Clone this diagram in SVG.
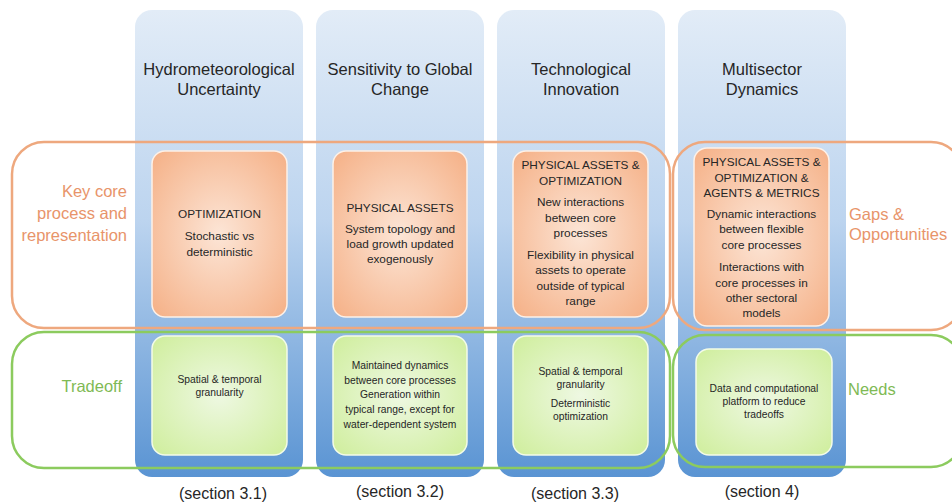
<svg xmlns="http://www.w3.org/2000/svg" width="952" height="504" viewBox="0 0 952 504">
<defs>
<linearGradient id="gBlue" x1="0" y1="0" x2="0" y2="1">
<stop offset="0" stop-color="#e2ecf7"/>
<stop offset="0.45" stop-color="#bcd4ef"/>
<stop offset="1" stop-color="#5a94d3"/>
</linearGradient>
<radialGradient id="gOrange" cx="0.5" cy="0.5" r="0.7">
<stop offset="0" stop-color="#fce5d6"/>
<stop offset="1" stop-color="#f5b086"/>
</radialGradient>
<radialGradient id="gGreen" cx="0.5" cy="0.5" r="0.7">
<stop offset="0" stop-color="#eef8e2"/>
<stop offset="1" stop-color="#cfee9c"/>
</radialGradient>
</defs>
<style>
.col{fill:url(#gBlue)}
.ob{fill:url(#gOrange);stroke:#fdf1e8;stroke-width:1.5}
.gb{fill:url(#gGreen);stroke:#f3fbe8;stroke-width:1.5}
.oo{fill:none;stroke:#eea87e;stroke-width:2.5}
.go{fill:none;stroke:#8ccb5e;stroke-width:2.5}
text{font-family:"Liberation Sans","Open Sans",sans-serif;fill:#262626;text-anchor:middle}
.title{font-size:16.5px}
.ot{font-size:11.8px}
.gt{font-size:10.3px}
.sec{font-size:16px}
.ol{font-size:16.5px;fill:#e8946a}
.gl{font-size:16.5px;fill:#7fba55}
</style>
<g id="columns">
<g id="col1"><rect class="col" x="135" y="10" width="168" height="467" rx="17"/>
<text class="title" x="219" y="75">Hydrometeorological</text><text class="title" x="219" y="95">Uncertainty</text></g>
<g id="col2"><rect class="col" x="316" y="10" width="168" height="467" rx="17"/>
<text class="title" x="400" y="75">Sensitivity to Global</text><text class="title" x="400" y="95">Change</text></g>
<g id="col3"><rect class="col" x="497" y="10" width="168" height="467" rx="17"/>
<text class="title" x="581" y="75">Technological</text><text class="title" x="581" y="95">Innovation</text></g>
<g id="col4"><rect class="col" x="678" y="10" width="168" height="467" rx="17"/>
<text class="title" x="762" y="75">Multisector</text><text class="title" x="762" y="95">Dynamics</text></g>
</g>
<g id="core1"><rect class="ob" x="152" y="151" width="135" height="166" rx="13"/>
<text class="ot" x="219.5" y="218">OPTIMIZATION</text>
<text class="ot" x="219.5" y="240">Stochastic vs</text>
<text class="ot" x="219.5" y="256">deterministic</text></g>
<g id="core2"><rect class="ob" x="333" y="151" width="134" height="166" rx="13"/>
<text class="ot" x="400" y="212">PHYSICAL ASSETS</text>
<text class="ot" x="400" y="233">System topology and</text>
<text class="ot" x="400" y="248">load growth updated</text>
<text class="ot" x="400" y="263">exogenously</text></g>
<g id="core3"><rect class="ob" x="513" y="151" width="135" height="166" rx="13"/>
<text class="ot" x="580.5" y="169">PHYSICAL ASSETS &amp;</text>
<text class="ot" x="580.5" y="185">OPTIMIZATION</text>
<text class="ot" x="580.5" y="206">New interactions</text>
<text class="ot" x="580.5" y="222">between core</text>
<text class="ot" x="580.5" y="237">processes</text>
<text class="ot" x="580.5" y="259">Flexibility in physical</text>
<text class="ot" x="580.5" y="274">assets to operate</text>
<text class="ot" x="580.5" y="290">outside of typical</text>
<text class="ot" x="580.5" y="305">range</text></g>
<g id="core4"><rect class="ob" x="694" y="148" width="135" height="178" rx="13"/>
<text class="ot" x="761.5" y="166">PHYSICAL ASSETS &amp;</text>
<text class="ot" x="761.5" y="182">OPTIMIZATION &amp;</text>
<text class="ot" x="761.5" y="197">AGENTS &amp; METRICS</text>
<text class="ot" x="761.5" y="218">Dynamic interactions</text>
<text class="ot" x="761.5" y="233">between flexible</text>
<text class="ot" x="761.5" y="249">core processes</text>
<text class="ot" x="761.5" y="271">Interactions with</text>
<text class="ot" x="761.5" y="287">core processes in</text>
<text class="ot" x="761.5" y="302">other sectoral</text>
<text class="ot" x="761.5" y="317">models</text></g>
<g id="trade1"><rect class="gb" x="152" y="336" width="135" height="119" rx="13"/>
<text class="gt" x="219.5" y="383">Spatial &amp; temporal</text>
<text class="gt" x="219.5" y="396">granularity</text></g>
<g id="trade2"><rect class="gb" x="333" y="336" width="134" height="119" rx="13"/>
<text class="gt" x="400" y="369">Maintained dynamics</text>
<text class="gt" x="400" y="384">between core processes</text>
<text class="gt" x="400" y="398">Generation within</text>
<text class="gt" x="400" y="413">typical range, except for</text>
<text class="gt" x="400" y="428">water-dependent system</text></g>
<g id="trade3"><rect class="gb" x="513" y="336" width="135" height="119" rx="13"/>
<text class="gt" x="580.5" y="375">Spatial &amp; temporal</text>
<text class="gt" x="580.5" y="388">granularity</text>
<text class="gt" x="580.5" y="407">Deterministic</text>
<text class="gt" x="580.5" y="420">optimization</text></g>
<g id="need4"><rect class="gb" x="696" y="349" width="136" height="106" rx="13"/>
<text class="gt" x="764" y="392">Data and computational</text>
<text class="gt" x="764" y="405">platform to reduce</text>
<text class="gt" x="764" y="418">tradeoffs</text></g>
<g id="outlines">
<rect id="coreBand" class="oo" x="12" y="142" width="658" height="186" rx="32"/>
<rect id="gapsBand" class="oo" x="673" y="142" width="290" height="188" rx="32"/>
<rect id="tradeBand" class="go" x="12" y="332" width="658" height="136" rx="32"/>
<rect id="needsBand" class="go" x="673" y="335" width="290" height="132" rx="32"/>
</g>
<g id="labels">
<g id="lblCore"><text class="ol" x="127" y="197" style="text-anchor:end">Key core</text>
<text class="ol" x="127" y="219" style="text-anchor:end">process and</text>
<text class="ol" x="127" y="241" style="text-anchor:end">representation</text></g>
<g id="lblGaps"><text class="ol" x="849" y="220" style="text-anchor:start">Gaps &amp;</text>
<text class="ol" x="849" y="240" style="text-anchor:start">Opportunities</text></g>
<g id="lblTrade"><text class="gl" x="122" y="392" style="text-anchor:end">Tradeoff</text></g>
<g id="lblNeeds"><text class="gl" x="848" y="395" style="text-anchor:start">Needs</text></g>
<g id="sections">
<text class="sec" x="223" y="499">(section 3.1)</text>
<text class="sec" x="400" y="497">(section 3.2)</text>
<text class="sec" x="575" y="499">(section 3.3)</text>
<text class="sec" x="762" y="497">(section 4)</text>
</g>
</g>
<g id="connectors"></g>
</svg>
